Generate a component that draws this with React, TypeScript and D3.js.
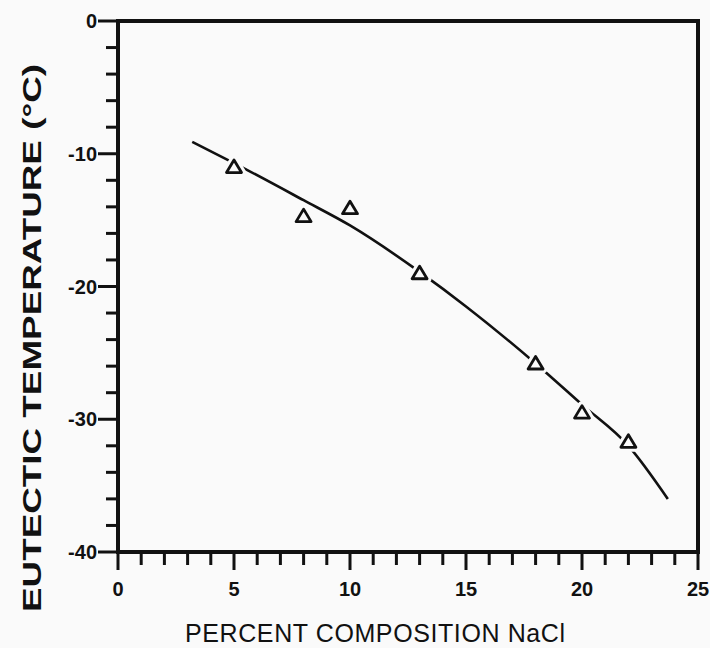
import React, { useRef, useEffect } from 'react';
import * as d3 from 'd3';

// axis ticks
const xTicks = [0, 5, 10, 15, 20, 25];
const yTicks = [0, -10, -20, -30, -40];

// measured eutectic points (percent NaCl, deg C)
const compositions = [5, 8, 10, 13, 18, 20, 22];
const temperatures = [-11.0, -14.7, -14.1, -19.0, -25.8, -29.5, -31.7];

// fitted curve as drawn
const fitX = [3.2, 5, 8, 10, 13, 15, 18, 20, 22, 23.7];
const fitY = [-9.1, -10.7, -13.5, -15.4, -18.9, -21.5, -25.8, -28.9, -32.0, -36.0];

const W = 710;
const H = 648;
const BG = '#fafafa';
const INK = '#111';
const FONT = 'Liberation Sans, Arial, sans-serif';

export default function App() {
  const ref = useRef<SVGSVGElement>(null);

  useEffect(() => {
    const svg = d3.select(ref.current);
    svg.selectAll('*').remove();

    const x = d3.scaleLinear().domain([0, 25]).range([118, 698]);
    const y = d3.scaleLinear().domain([-40, 0]).range([552, 21]);

    svg.append('rect').attr('width', W).attr('height', H).attr('fill', BG);

    const g = svg.append('g');

    // minor ticks
    g.selectAll('.xminor')
      .data(x.ticks(25))
      .join('line')
      .attr('x1', d => x(d)).attr('x2', d => x(d))
      .attr('y1', y(-40)).attr('y2', d => y(-40) + (d % 5 === 0 ? 18 : 13))
      .attr('stroke', INK)
      .attr('stroke-width', 3);

    g.selectAll('.yminor')
      .data(y.ticks(20))
      .join('line')
      .attr('y1', d => y(d)).attr('y2', d => y(d))
      .attr('x1', d => x(0) - (d % 10 === 0 ? 20 : 12)).attr('x2', x(0))
      .attr('stroke', INK)
      .attr('stroke-width', 3);

    // frame
    g.append('rect')
      .attr('x', x(0)).attr('y', y(0))
      .attr('width', x(25) - x(0)).attr('height', y(-40) - y(0))
      .attr('fill', 'none')
      .attr('stroke', INK)
      .attr('stroke-width', 4);

    // tick labels
    g.selectAll('.xlab')
      .data(xTicks)
      .join('text')
      .attr('x', d => x(d))
      .attr('y', y(-40) + 44)
      .attr('text-anchor', 'middle')
      .attr('font-family', FONT)
      .attr('font-weight', 700)
      .attr('font-size', 20)
      .attr('fill', INK)
      .text(d => String(d));

    g.selectAll('.ylab')
      .data(yTicks)
      .join('text')
      .attr('x', x(0) - 21)
      .attr('y', d => y(d))
      .attr('dy', '0.36em')
      .attr('text-anchor', 'end')
      .attr('font-family', FONT)
      .attr('font-weight', 700)
      .attr('font-size', 20)
      .attr('fill', INK)
      .text(d => String(d));

    // fitted curve
    const line = d3.line<number>()
      .x(i => x(fitX[i]))
      .y(i => y(fitY[i]))
      .curve(d3.curveMonotoneX);
    g.append('path')
      .attr('d', line(d3.range(fitX.length)))
      .attr('fill', 'none')
      .attr('stroke', INK)
      .attr('stroke-width', 2.6);

    // triangles with a halo that breaks the curve
    const tri = (cx: number, cy: number) =>
      `M${cx},${cy - 7}L${cx + 7.5},${cy + 5.5}L${cx - 7.5},${cy + 5.5}Z`;
    const pts = compositions.map((c, i) => [x(c), y(temperatures[i])]);
    g.selectAll('.halo')
      .data(pts)
      .join('path')
      .attr('d', d => tri(d[0], d[1]))
      .attr('fill', BG)
      .attr('stroke', BG)
      .attr('stroke-width', 9)
      .attr('stroke-linejoin', 'round');
    g.selectAll('.tri')
      .data(pts)
      .join('path')
      .attr('d', d => tri(d[0], d[1]))
      .attr('fill', 'none')
      .attr('stroke', INK)
      .attr('stroke-width', 2.8)
      .attr('stroke-linejoin', 'round');

    // axis titles
    svg.append('text')
      .attr('x', 375)
      .attr('y', 642)
      .attr('text-anchor', 'middle')
      .attr('font-family', FONT)
      .attr('font-size', 25)
      .attr('fill', INK)
      .attr('textLength', 380)
      .attr('lengthAdjust', 'spacing')
      .text('PERCENT COMPOSITION  NaCl');

    svg.append('text')
      .attr('transform', `translate(41, 338) rotate(-90)`)
      .attr('text-anchor', 'middle')
      .attr('font-family', FONT)
      .attr('font-weight', 700)
      .attr('font-size', 26)
      .attr('fill', INK)
      .attr('textLength', 548)
      .attr('lengthAdjust', 'spacingAndGlyphs')
      .text('EUTECTIC TEMPERATURE  (°C)');
  }, []);

  return (
    <svg
      ref={ref}
      width={W}
      height={H}
      style={{ position: 'absolute', left: 0, top: 0 }}
    />
  );
}
